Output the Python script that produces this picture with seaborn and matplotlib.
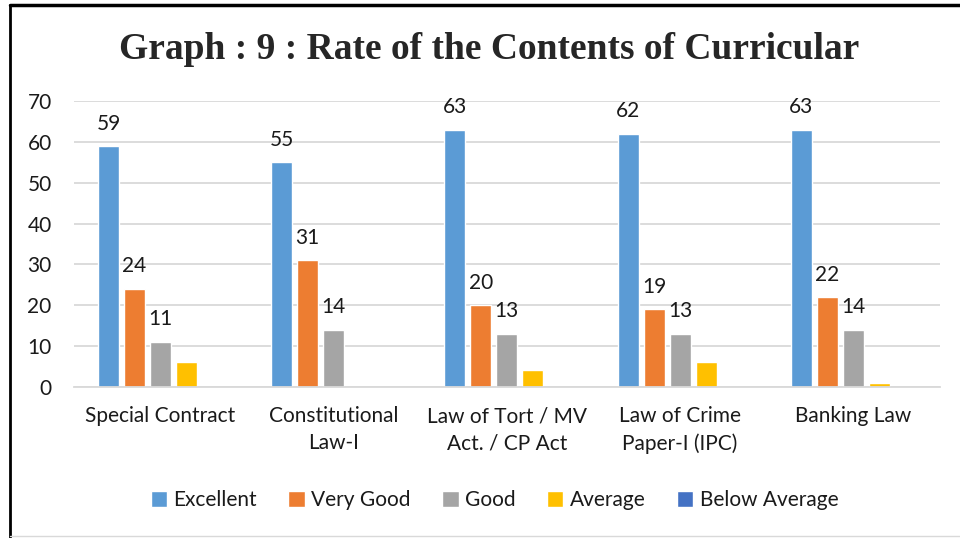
import matplotlib
matplotlib.use("Agg")
import matplotlib.pyplot as plt
from matplotlib.lines import Line2D
import seaborn as sns
import pandas as pd

categories = ["Special Contract", "Constitutional\nLaw-I", "Law of Tort / MV\nAct. / CP Act",
              "Law of Crime\nPaper-I (IPC)", "Banking Law"]
series = ["Excellent", "Very Good", "Good", "Average", "Below Average"]
excellent = [59, 55, 63, 62, 63]
very_good = [24, 31, 20, 19, 22]
good = [11, 14, 13, 13, 14]
average = [6, 0, 4, 6, 1]
below_average = [0, 0, 0, 0, 0]
colors = ["#5B9BD5", "#ED7D31", "#A5A5A5", "#FFC000", "#4472C4"]
labelled = ["Excellent", "Very Good", "Good"]

values = [excellent, very_good, good, average, below_average]
rows = []
for s, vals in zip(series, values):
    for c, v in zip(categories, vals):
        rows.append({"Course": c, "Rating": s, "Count": v})
df = pd.DataFrame(rows)

sns.set_style("white")
plt.rcParams["font.family"] = ["Lato", "DejaVu Sans"]

fig = plt.figure(figsize=(9.6, 5.38), dpi=100)
ax = fig.add_axes([0.077, 0.281, 0.902, 0.531])

sns.barplot(data=df, x="Course", y="Count", hue="Rating", palette=colors, saturation=1,
            width=0.75, gap=0.19, ax=ax, legend=True)

for cont, name in zip(ax.containers, series):
    if name in labelled:
        ax.bar_label(cont, padding=9, fontsize=15, color="#1a1a1a")

ax.set_ylim(0, 70)
ax.set_xlim(-0.5, 4.5)
ax.set_yticks(range(0, 71, 10))
ax.yaxis.grid(True, color="#D9D9D9", linewidth=1.3)
ax.set_axisbelow(True)
for side in ["top", "right", "left"]:
    ax.spines[side].set_visible(False)
ax.spines["bottom"].set_color("#D9D9D9")
ax.spines["bottom"].set_linewidth(1.3)
ax.tick_params(axis="y", length=0, labelsize=15, colors="#1a1a1a", pad=16)
ax.tick_params(axis="x", length=0, labelsize=15, colors="#1a1a1a", pad=14)
for t in ax.get_xticklabels():
    t.set_linespacing(1.45)
ax.set_xlabel("")
ax.set_ylabel("")

handles, labels = ax.get_legend_handles_labels()
ax.legend_.remove()
fig.legend(handles, labels, loc="center", bbox_to_anchor=(0.515, 0.071), ncol=5,
           frameon=False, fontsize=15, handlelength=0.8, handleheight=0.8,
           handletextpad=0.3, columnspacing=1.5, labelcolor="#1a1a1a")

fig.text(0.51, 0.908, "Graph : 9 : Rate of the Contents of Curricular", ha="center", va="center",
         fontsize=27, fontweight="bold", family="Liberation Serif")

# frame around the figure
fig.add_artist(Line2D([10 / 960, 1], [1 - 5 / 538, 1 - 5 / 538], color="black", linewidth=2.5,
                      transform=fig.transFigure))
fig.add_artist(Line2D([10 / 960, 10 / 960], [0, 1 - 5 / 538], color="black", linewidth=2,
                      transform=fig.transFigure))
fig.add_artist(Line2D([10 / 960, 1], [2 / 538, 2 / 538], color="#D9D9D9", linewidth=1,
                      transform=fig.transFigure))

fig.savefig("out.png", dpi=100)
